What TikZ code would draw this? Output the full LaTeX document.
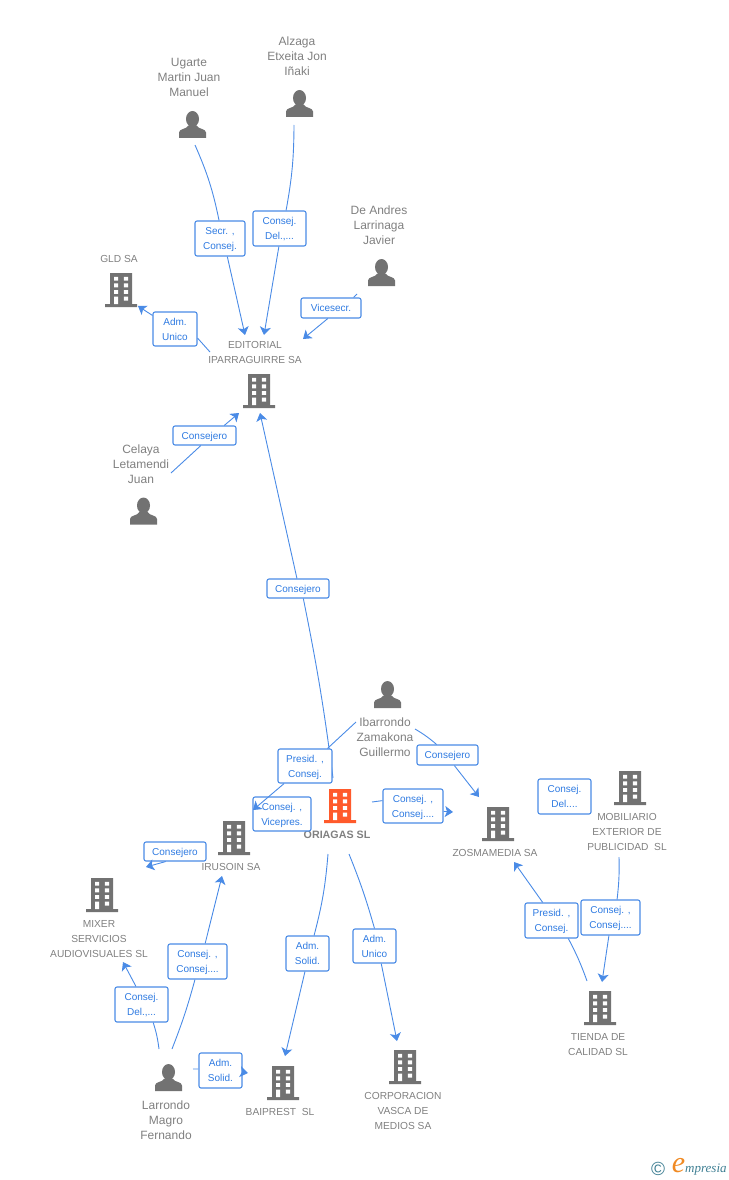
\documentclass[tikz,border=0pt]{standalone}
\usepackage{fontspec}
\setmainfont{Liberation Sans}
\newfontfamily\logofont{Liberation Serif}
\usetikzlibrary{arrows.meta}
\definecolor{iconcol}{HTML}{727272}
\definecolor{maincol}{HTML}{FF5A2B}
\definecolor{txtcol}{HTML}{808080}
\definecolor{linkcol}{HTML}{4A8BE6}
\definecolor{boxtxt}{HTML}{2F7BE2}
\definecolor{logoteal}{HTML}{3F7F93}
\definecolor{logoorange}{HTML}{F08A24}
\begin{document}
\begin{tikzpicture}[
	x=1pt, y=-1pt,
	> = {Stealth[length=8pt,width=11pt,inset=2pt]},
	linkline/.style = {draw=linkcol, line width=0.9pt},
	linkend/.style = {linkline, ->},
	rolebox/.style = {draw=linkcol, line width=1.1pt, fill=white, rounded corners=2pt, inner sep=0pt, align=center, text=boxtxt, text depth=0pt, font=\fontsize{10}{15}\selectfont},
	firmtext/.style = {text=txtcol, align=center, inner sep=0pt, font=\fontsize{10.2}{15}\selectfont},
	persontext/.style = {text=txtcol, align=center, inner sep=0pt, font=\fontsize{12}{15}\selectfont},
	buildingicon/.style = {minimum width=32pt, minimum height=34pt, inner sep=0pt, outer sep=0pt,
		path picture={
			\begin{scope}[shift={(path picture bounding box.center)}]
				\fill[#1] (-11,-17) rectangle (11,14) (-16,14) rectangle (16,17);
				\foreach \wy in {-13.2,-6.6,0} {
					\fill[white] (-7,\wy) rectangle +(4.2,3.9) (2.8,\wy) rectangle +(4.2,3.9);
				}
				\fill[white] (-7,6.6) rectangle (-2.8,14) (2.8,6.6) rectangle (7,10.6);
			\end{scope}}},
	buildingicon/.default = iconcol,
	personicon/.style = {minimum width=27pt, minimum height=27pt, inner sep=0pt, outer sep=0pt,
		path picture={
			\begin{scope}[shift={(path picture bounding box.center)}]
				\fill[iconcol] (0,-5.5) ellipse (6.5 and 8);
				\fill[iconcol] (-13.5,13.5) -- (-13.5,8) .. controls (-13.5,4) and (-6,5) .. (-4,1) -- (4,1) .. controls (6,5) and (13.5,4) .. (13.5,8) -- (13.5,13.5) -- cycle;
			\end{scope}}}
	]
	\useasboundingbox (0,0) rectangle (728,1180);

	\node[personicon] (ugarte) at (192.5,124.5) {};
	\node[personicon] (alzaga) at (299.5,103.5) {};
	\node[personicon] (deandres) at (381.5,272.5) {};
	\node[personicon] (celaya) at (143.5,511) {};
	\node[personicon] (ibarrondo) at (387.5,694.5) {};
	\node[personicon] (larrondo) at (168.5,1077.5) {};

	\node[persontext] (ugartetxt) at (189,77) {Ugarte\\Martin Juan\\Manuel};
	\node[persontext] (alzagatxt) at (297,56) {Alzaga\\Etxeita Jon\\Iñaki};
	\node[persontext] (deandrestxt) at (379,225) {De Andres\\Larrinaga\\Javier};
	\node[persontext] (celayatxt) at (141,464) {Celaya\\Letamendi\\Juan};
	\node[persontext] (ibarrondotxt) at (385,737) {Ibarrondo\\Zamakona\\Guillermo};
	\node[persontext] (larrondotxt) at (166,1120) {Larrondo\\Magro\\Fernando};

	\node[buildingicon] (gld) at (121,290) {};
	\node[buildingicon] (editorial) at (259,391) {};
	\node[buildingicon=maincol] (oriagas) at (340,806) {};
	\node[buildingicon] (irusoin) at (234,838) {};
	\node[buildingicon] (zosma) at (498,824) {};
	\node[buildingicon] (mobiliario) at (630,788) {};
	\node[buildingicon] (mixer) at (102,895) {};
	\node[buildingicon] (baiprest) at (283,1083) {};
	\node[buildingicon] (corporacion) at (405,1067) {};
	\node[buildingicon] (tienda) at (600,1008) {};

	\node[firmtext] (gldtxt) at (119,259) {GLD SA};
	\node[firmtext] (editorialtxt) at (255,352.5) {EDITORIAL\\IPARRAGUIRRE SA};
	\node[firmtext, font=\fontsize{10.7}{15}\selectfont\bfseries] (oriagastxt) at (337,835) {ORIAGAS SL};
	\node[firmtext] (irusointxt) at (231,867) {IRUSOIN SA};
	\node[firmtext] (zosmatxt) at (495,853) {ZOSMAMEDIA SA};
	\node[firmtext] (mobiliariotxt) at (627,832) {MOBILIARIO\\EXTERIOR DE\\PUBLICIDAD\ \ SL};
	\node[firmtext] (mixertxt) at (99,939) {MIXER\\SERVICIOS\\AUDIOVISUALES SL};
	\node[firmtext] (baipresttxt) at (280,1112) {BAIPREST\ \ SL};
	\node[firmtext] (corporaciontxt) at (403,1111) {CORPORACION\\VASCA DE\\MEDIOS SA};
	\node[firmtext] (tiendatxt) at (598,1044.5) {TIENDA DE\\CALIDAD SL};

	\coordinate (@ugarte) at (195,145);
	\coordinate (@alzaga) at (294,125);
	\coordinate (@deandres) at (357,294);
	\coordinate (@celaya) at (171,473);
	\coordinate (@edileft) at (210,352);
	\coordinate (@edibig) at (333,778);
	\coordinate (@ibaleft) at (356,722);
	\coordinate (@ibaright) at (415,729);
	\coordinate (@orileft) at (328,854);
	\coordinate (@oriright) at (349,854);
	\coordinate (@orieast) at (372,802);
	\coordinate (@lartop) at (172,1049);
	\coordinate (@larleft) at (159,1049);
	\coordinate (@larright) at (193,1069);
	\coordinate (@tiendaout) at (587,981);
	\coordinate (@mobout) at (619,857);

	\coordinate (@toedi1) at (245,335);
	\coordinate (@toedi2) at (264,335);
	\coordinate (@toedi3) at (303,339);
	\coordinate (@toedi4) at (239,413);
	\coordinate (@toedi5) at (260,413);
	\coordinate (@togld) at (138,306);
	\coordinate (@toirusoin1) at (253,810);
	\coordinate (@toirusoin2) at (222,876);
	\coordinate (@tozosma1) at (479,797);
	\coordinate (@tozosma2) at (453,812);
	\coordinate (@tozosma3) at (514,862);
	\coordinate (@tomixer) at (123,962);
	\coordinate (@towest) at (146,867);
	\coordinate (@tobai1) at (285,1056);
	\coordinate (@tobai2) at (248,1073);
	\coordinate (@tocorp) at (397,1041);
	\coordinate (@totienda) at (602,982);

	\node[rolebox, minimum width=50pt, minimum height=35pt] (secr) at (220,238.5) {Secr. ,\\Consej.};
	\node[rolebox, minimum width=53pt, minimum height=35pt] (delalz) at (279.5,228.5) {Consej.\\Del.,...};
	\node[rolebox, minimum width=60pt, minimum height=20pt] (vicesecr) at (331,308) {Vicesecr.};
	\node[rolebox, minimum width=44pt, minimum height=34pt] (unicogld) at (175,329) {Adm.\\Unico};
	\node[rolebox, minimum width=63pt, minimum height=19pt] (consejcel) at (204.5,435.5) {Consejero};
	\node[rolebox, minimum width=62pt, minimum height=19pt] (consejori) at (298,588.5) {Consejero};
	\node[rolebox, minimum width=58pt, minimum height=34pt] (vicepres) at (282,814) {Consej. ,\\Vicepres.};

	\draw[linkline] (@ugarte) to[bend left=6] (secr.93);
	\draw[linkend] (secr.-68) to (@toedi1);
	\draw[linkline] (@alzaga) to[bend left=5] (delalz.70);
	\draw[linkend] (delalz.-92) to (@toedi2);
	\draw[linkline] (@deandres) to (vicesecr.25);
	\draw[linkend] (vicesecr.-107) to (@toedi3);
	\draw[linkline] (@edileft) to (unicogld.-22);
	\draw[linkend] (unicogld.149) to (@togld);
	\draw[linkline] (@celaya) to (consejcel.-110);
	\draw[linkend] (consejcel.27) to (@toedi4);
	\draw[linkline] (@edibig) to[bend right=2] (consejori.-62);
	\draw[linkend] (consejori.96) to (@toedi5);

	\node[rolebox, minimum width=54pt, minimum height=34pt] (presori) at (305,766) {Presid. ,\\Consej.};
	\draw[linkline] (@ibaleft) to (presori.38);
	\draw[linkend] (presori.-140) to (@toirusoin1);

	\node[rolebox, minimum width=61pt, minimum height=20pt] (consejiba) at (447.5,755) {Consejero};
	\draw[linkline] (@ibaright) to[bend left=5] (consejiba.136);
	\draw[linkend] (consejiba.-57) to (@tozosma1);

	\node[rolebox, minimum width=60pt, minimum height=34pt] (consejzos) at (413,806) {Consej. ,\\Consej....};
	\draw[linkline] (@orieast) to (consejzos.170);
	\draw[linkend] (consejzos.-10) to (@tozosma2);

	\node[rolebox, minimum width=62pt, minimum height=19pt] (consejwest) at (175,851.5) {Consejero};
	\draw[linkend] (consejwest.-133) to (@towest);

	\node[rolebox, minimum width=43pt, minimum height=35pt] (solidbai) at (307.5,953.5) {Adm.\\Solid.};
	\draw[linkline] (@orileft) to[bend left=5] (solidbai.70);
	\draw[linkend] (solidbai.-98) to (@tobai1);

	\node[rolebox, minimum width=43pt, minimum height=34pt] (unicocorp) at (374.5,946) {Adm.\\Unico};
	\draw[linkline] (@oriright) to[bend left=3] (unicocorp.90);
	\draw[linkend] (unicocorp.-69) to (@tocorp);

	\node[rolebox, minimum width=59pt, minimum height=35pt] (consejiru) at (197.5,961.5) {Consej. ,\\Consej....};
	\draw[linkline] (@lartop) to[bend right=3] (consejiru.-98);
	\draw[linkend] (consejiru.67) to (@toirusoin2);

	\node[rolebox, minimum width=53pt, minimum height=35pt] (delmix) at (141.5,1004.5) {Consej.\\Del.,...};
	\draw[linkline] (@larleft) to[bend right=5] (delmix.-57);
	\draw[linkend] (delmix.107) to (@tomixer);

	\node[rolebox, minimum width=43pt, minimum height=35pt] (solidlar) at (220.5,1070.5) {Adm.\\Solid.};
	\draw[linkline] (@larright) to (solidlar.176);
	\draw[linkend] (solidlar.-4) to (@tobai2);

	\node[rolebox, minimum width=53pt, minimum height=35pt] (prestie) at (551.5,920.5) {Presid. ,\\Consej.};
	\draw[linkline] (@tiendaout) to[bend right=4] (prestie.-47);
	\draw[linkend] (prestie.116) to (@tozosma3);

	\node[rolebox, minimum width=59pt, minimum height=35pt] (consejmob) at (610.5,917.5) {Consej. ,\\Consej....};
	\draw[linkline] (@mobout) to[bend left=4] (consejmob.70);
	\draw[linkend] (consejmob.-95) to (@totienda);

	\node[rolebox, minimum width=53pt, minimum height=35pt] (delfree) at (564.5,796.5) {Consej.\\Del....};

	\node[text=logoteal, inner sep=0pt, font=\fontsize{19}{19}\selectfont] (logoc) at (658,1169) {\textcopyright};
	\node[text=logoorange, inner sep=0pt, font=\logofont\fontsize{30}{30}\selectfont\itshape] (logoe) at (678.5,1166) {e};
	\node[text=logoteal, inner sep=0pt, anchor=west, font=\logofont\fontsize{13}{15}\selectfont\itshape] (logotxt) at (685,1170) {mpresia};
\end{tikzpicture}
\end{document}
